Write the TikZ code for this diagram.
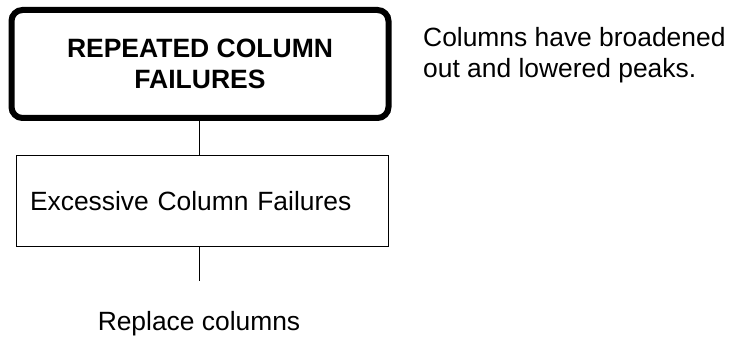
\documentclass[tikz,border=0pt]{standalone}
\usepackage{fontspec}
\setmainfont{Liberation Sans}
\begin{document}
\begin{tikzpicture}[x=1pt,y=-1pt,
  txt/.style={font=\fontsize{26.4}{31}\selectfont, inner sep=0pt},
  titlebox/.style={draw, line width=6pt, rounded corners=11pt, minimum width=377pt, minimum height=108pt, align=center, font=\fontsize{26.5}{31}\selectfont\bfseries},
  plainbox/.style={draw, line width=1pt, minimum height=90.5pt, text width=344pt, inner xsep=14pt, align=left, font=\fontsize{26.4}{31}\selectfont},
  link/.style={draw, line width=1pt}]
\useasboundingbox (0,0) rectangle (733,339);
\node[titlebox] (top) at (200,64) {REPEATED COLUMN\\FAILURES};
\node[plainbox] (mid) at (202,201) {Excessive Column Failures};
\node[txt] (rep) at (199,324) {Replace columns};
\node[txt, anchor=north west, align=left] (note) at (423,27.5) {Columns have broadened\\out and lowered peaks.};
\coordinate (end) at (199.5,281);
\draw[link] (top.south -| end) -- (mid.north -| end);
\draw[link] (mid.south -| end) -- (end);
\end{tikzpicture}
\end{document}
